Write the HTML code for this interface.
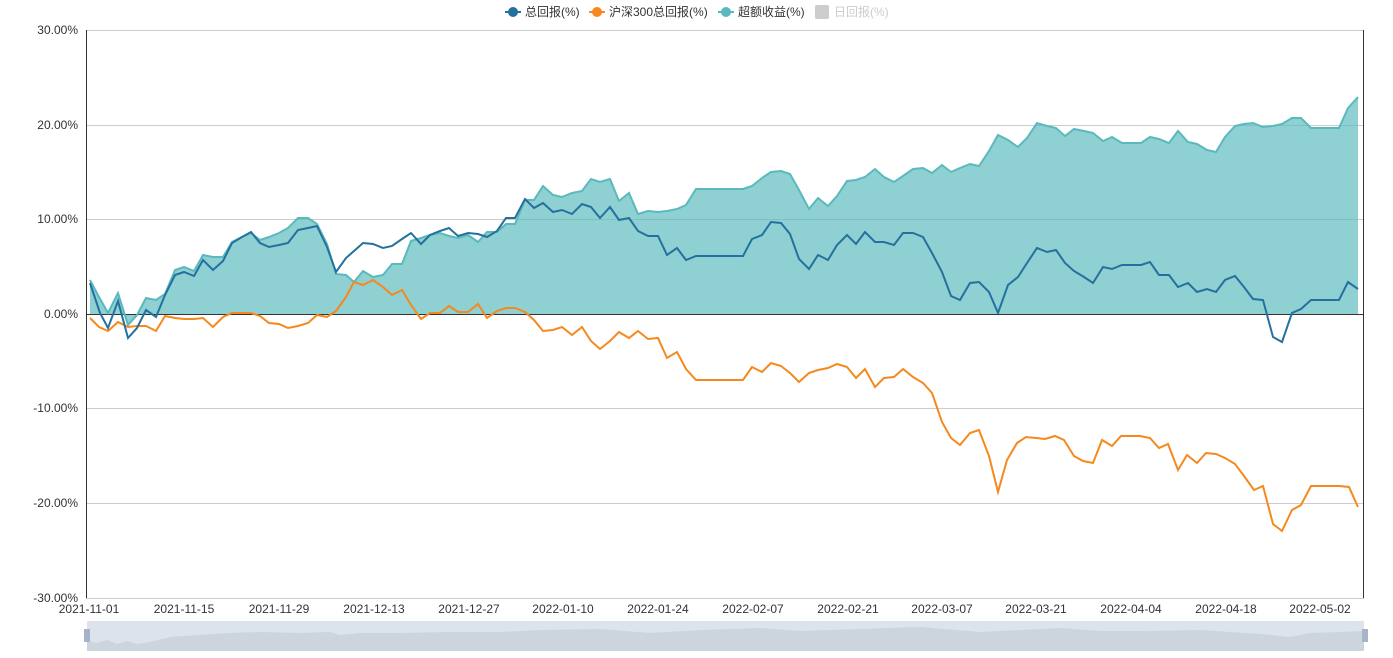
<!DOCTYPE html>
<html><head><meta charset="utf-8"><style>
html,body{margin:0;padding:0;background:#fff;}
svg{display:block;font-family:"Liberation Sans","Noto Sans CJK SC",sans-serif;}
</style></head><body>
<svg width="1393" height="658" viewBox="0 0 1393 658">
<g stroke="#ccc" stroke-width="1">
<line x1="86" y1="30.5" x2="1364" y2="30.5"/>
<line x1="86" y1="125.5" x2="1364" y2="125.5"/>
<line x1="86" y1="219.5" x2="1364" y2="219.5"/>
<line x1="86" y1="408.5" x2="1364" y2="408.5"/>
<line x1="86" y1="503.5" x2="1364" y2="503.5"/>
<line x1="86" y1="598.5" x2="1364" y2="598.5"/>
</g>
<polygon fill="#5ab9bd" fill-opacity="0.68" points="90,280 99,297 108,313 118,293 128,325 137,315 146,298 156,300 165,294 175,270 184,267 194,271 203,255 213,257 223,257 232,242 242,237 251,233 260,240 269,237 279,233 288,228 298,218 308,218 317,224 327,244 336,274 346,275 354,282 363,271 373,277 383,275 392,264 402,264 411,241 421,238 430,235 440,233 449,236 458,238 468,235 478,242 487,232 497,232 506,224 515,224 525,200 534,200 543,186 553,195 562,197 572,193 582,191 591,179 600,182 610,179 619,201 629,193 638,214 648,211 658,212 667,211 677,209 686,205 696,189 743,189 752,186 762,178 771,172 781,171 790,174 799,190 809,209 818,198 828,206 837,196 847,181 856,180 865,177 875,169 884,177 894,182 903,176 913,169 923,168 932,173 942,165 951,172 960,168 970,164 979,166 989,151 998,135 1008,140 1018,147 1027,138 1037,123 1047,126 1056,128 1065,136 1074,129 1084,131 1093,133 1103,141 1112,137 1122,143 1141,143 1150,137 1159,139 1169,143 1178,131 1188,142 1197,144 1207,150 1216,152 1225,137 1235,126 1244,124 1253,123 1263,127 1273,126 1282,124 1292,118 1301,118 1311,128 1339,128 1348,108 1358,97 1358,314 90,314"/>
<line x1="86" y1="314.5" x2="1364" y2="314.5" stroke="#333" stroke-width="1"/>
<line x1="86.5" y1="30" x2="86.5" y2="598" stroke="#333" stroke-width="1"/>
<line x1="1363.5" y1="30" x2="1363.5" y2="598" stroke="#333" stroke-width="1"/>
<polyline fill="none" stroke="#5ab9bd" stroke-width="2" points="90,280 99,297 108,313 118,293 128,325 137,315 146,298 156,300 165,294 175,270 184,267 194,271 203,255 213,257 223,257 232,242 242,237 251,233 260,240 269,237 279,233 288,228 298,218 308,218 317,224 327,244 336,274 346,275 354,282 363,271 373,277 383,275 392,264 402,264 411,241 421,238 430,235 440,233 449,236 458,238 468,235 478,242 487,232 497,232 506,224 515,224 525,200 534,200 543,186 553,195 562,197 572,193 582,191 591,179 600,182 610,179 619,201 629,193 638,214 648,211 658,212 667,211 677,209 686,205 696,189 743,189 752,186 762,178 771,172 781,171 790,174 799,190 809,209 818,198 828,206 837,196 847,181 856,180 865,177 875,169 884,177 894,182 903,176 913,169 923,168 932,173 942,165 951,172 960,168 970,164 979,166 989,151 998,135 1008,140 1018,147 1027,138 1037,123 1047,126 1056,128 1065,136 1074,129 1084,131 1093,133 1103,141 1112,137 1122,143 1141,143 1150,137 1159,139 1169,143 1178,131 1188,142 1197,144 1207,150 1216,152 1225,137 1235,126 1244,124 1253,123 1263,127 1273,126 1282,124 1292,118 1301,118 1311,128 1339,128 1348,108 1358,97"/>
<polyline fill="none" stroke="#f5891e" stroke-width="2" points="90,318 99,327 108,331 118,322 128,327 137,326 146,326 156,331 165,316 175,318 184,319 194,319 203,318 213,327 223,317 232,313 242,313 251,313 260,316 269,323 279,324 288,328 298,326 308,323 317,315 327,317 336,311 346,297 354,282 363,285 373,280 383,287 392,295 402,290 411,305 421,319 430,313 440,313 449,306 458,312 468,312 478,304 487,318 497,311 506,308 515,308 525,312 534,320 543,331 553,330 562,327 572,335 582,327 591,341 600,349 610,341 619,332 629,338 638,331 648,339 658,338 667,358 677,352 686,369 696,380 743,380 752,367 762,372 771,363 781,366 790,373 799,382 809,373 818,370 828,368 837,364 847,367 856,378 865,369 875,387 884,378 894,377 903,369 913,377 923,383 932,393 942,422 951,438 960,445 970,433 979,430 989,456 998,492 1007,460 1017,443 1026,437 1036,438 1045,439 1055,436 1064,440 1074,456 1083,461 1093,463 1102,440 1112,446 1121,436 1140,436 1150,438 1159,448 1168,444 1178,470 1187,455 1197,463 1206,453 1216,454 1225,458 1235,464 1244,476 1254,490 1263,486 1273,524 1282,531 1292,510 1301,505 1311,486 1339,486 1349,487 1358,507"/>
<polyline fill="none" stroke="#24719f" stroke-width="2" points="90,283 100,313 108,328 118,301 128,338 137,328 146,310 156,317 165,295 175,275 184,272 194,276 203,260 213,270 223,261 232,243 242,237 251,232 260,243 269,247 279,245 288,243 298,230 308,228 317,226 327,247 336,272 346,258 354,251 363,243 373,244 383,248 392,246 402,239 411,233 421,244 430,235 440,231 449,228 458,236 468,233 478,234 487,237 497,231 506,218 515,218 525,199 534,208 543,203 553,212 562,210 572,214 582,204 591,207 600,218 610,207 619,220 629,218 638,231 648,236 658,236 667,255 677,248 686,260 696,256 743,256 752,239 762,235 771,222 781,223 790,234 799,259 809,269 818,255 828,260 837,245 847,235 856,244 865,232 875,242 884,242 894,245 903,233 913,233 923,237 932,253 942,272 951,296 960,300 970,283 979,282 989,292 998,313 1008,285 1018,277 1027,263 1037,248 1047,252 1056,250 1065,263 1074,271 1084,277 1093,283 1103,267 1112,269 1122,265 1141,265 1150,262 1159,275 1169,275 1178,287 1188,283 1197,292 1207,289 1216,292 1225,280 1235,276 1244,287 1253,299 1263,300 1273,337 1282,342 1292,313 1301,309 1311,300 1339,300 1348,282 1358,289"/>
<g font-size="12" fill="#333" text-anchor="end">
<text x="78" y="34">30.00%</text><text x="78" y="129">20.00%</text><text x="78" y="223">10.00%</text><text x="78" y="318">0.00%</text><text x="78" y="412">-10.00%</text><text x="78" y="507">-20.00%</text><text x="78" y="602">-30.00%</text>
</g>
<g font-size="12" fill="#333" text-anchor="middle">
<text x="89" y="613">2021-11-01</text><text x="184" y="613">2021-11-15</text><text x="279" y="613">2021-11-29</text><text x="374" y="613">2021-12-13</text><text x="469" y="613">2021-12-27</text><text x="563" y="613">2022-01-10</text><text x="658" y="613">2022-01-24</text><text x="753" y="613">2022-02-07</text><text x="848" y="613">2022-02-21</text><text x="942" y="613">2022-03-07</text><text x="1036" y="613">2022-03-21</text><text x="1131" y="613">2022-04-04</text><text x="1226" y="613">2022-04-18</text><text x="1320" y="613">2022-05-02</text>
</g>
<rect x="87" y="621" width="1277" height="30" fill="#dce3ec"/>
<path fill="#c8d0db" fill-opacity="0.8" d="M87,641 L97,643 L107,640 L117,644 L127,641 L137,644 L150,642 L170,637 L200,635 L230,633 L260,632 L300,633 L330,632 L340,635 L360,633 L400,633 L450,632 L500,632 L540,630 L600,629 L650,633 L700,630 L760,628 L800,631 L860,629 L920,627 L980,632 L1020,630 L1060,628 L1100,631 L1150,631 L1200,630 L1260,634 L1290,637 L1310,633 L1340,632 L1364,631 L1364,651 L87,651 Z"/>
<rect x="84" y="629" width="6" height="13" fill="#a6b4c9"/>
<rect x="1362" y="629" width="6" height="13" fill="#a6b4c9"/>
<g font-size="12">
<line x1="505" y1="12" x2="521" y2="12" stroke="#24719f" stroke-width="2"/><circle cx="513" cy="12" r="5" fill="#24719f"/><text x="525" y="16" fill="#333">总回报(%)</text>
<line x1="589" y1="12" x2="605" y2="12" stroke="#f5891e" stroke-width="2"/><circle cx="597" cy="12" r="5" fill="#f5891e"/><text x="609" y="16" fill="#333">沪深300总回报(%)</text>
<line x1="718" y1="12" x2="734" y2="12" stroke="#5ab9bd" stroke-width="2"/><circle cx="726" cy="12" r="5" fill="#5ab9bd"/><text x="738" y="16" fill="#333">超额收益(%)</text>
<rect x="815" y="5" width="14" height="14" rx="2" fill="#ccc"/><text x="834" y="16" fill="#ccc">日回报(%)</text>
</g>
</svg>
</body></html>
